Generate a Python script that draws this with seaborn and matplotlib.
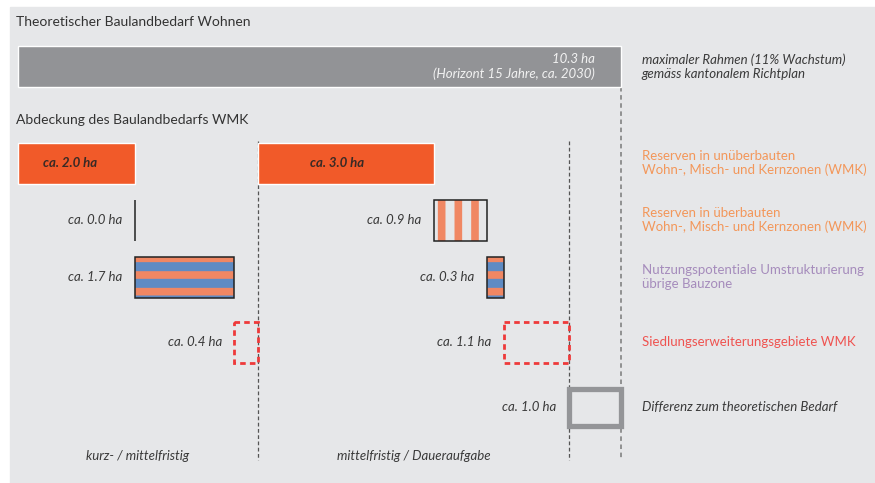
import numpy as np
import pandas as pd
import matplotlib.pyplot as plt
import seaborn as sns

sns.set_style('white')
plt.rcParams['font.family'] = ['Lato', 'DejaVu Sans']
plt.rcParams['hatch.linewidth'] = 5.5

# --- data (ha) ---
total_ha = 10.3
total_note = '(Horizont 15 Jahre, ca. 2030)'
total_label = 'maximaler Rahmen (11% Wachstum)\ngemäss kantonalem Richtplan'
groups = ['kurz- / mittelfristig', 'mittelfristig / Daueraufgabe']
short_term = [2.0, 0.0, 1.7, 0.4]
long_term = [3.0, 0.9, 0.3, 1.1]
gap_ha = 1.0
categories = ['Reserven in unüberbauten\nWohn-, Misch- und Kernzonen (WMK)',
              'Reserven in überbauten\nWohn-, Misch- und Kernzonen (WMK)',
              'Nutzungspotentiale Umstrukturierung\nübrige Bauzone',
              'Siedlungserweiterungsgebiete WMK']
gap_category = 'Differenz zum theoretischen Bedarf'

# colours
bg = '#e6e7e9'
grey_bar = '#929396'
orange = '#f15a29'
salmon = '#f08763'
blue = '#5f8bc3'
red = '#ee3a3a'
dark = '#3a3a3a'
cat_text = ['#f3975a', '#f3975a', '#a68cbc', '#ef5350']

# row layout in pixel units (y axis = pixels from top)
row_y = [163, 220, 277, 342, 407]
bar_h = 41

df = pd.DataFrame({
    'group': [groups[0]] * 4 + [groups[1]] * 4,
    'cat': list(range(4)) * 2,
    'value': short_term + long_term,
})
df['end'] = df['value'].cumsum()
df['start'] = df['end'] - df['value']
group_end = df.groupby('group', sort=False)['end'].max()

fig = plt.figure(figsize=(8.75, 4.83), dpi=100)
ax = fig.add_axes([0, 0, 1, 1])
px_per_ha = 58.64
x0 = 17.5
ax.set_xlim(-x0 / px_per_ha, (875 - x0) / px_per_ha)
ax.set_ylim(483, 0)
ax.set_axis_off()

ax.add_patch(plt.Rectangle((10 / 875, 0), 865 / 875, 476 / 483,
                           transform=ax.transAxes, color=bg, zorder=0))

# headings
ax.text(-0.02, 22, 'Theoretischer Baulandbedarf Wohnen', fontsize=10,
        color='#333333', va='center', ha='left')
ax.text(-0.02, 120, 'Abdeckung des Baulandbedarfs WMK', fontsize=10,
        color='#333333', va='center', ha='left')

# total bar
ax.barh(66.5, total_ha, left=0, height=bar_h, color=grey_bar, zorder=2)
ax.annotate(f'{total_ha:.1f} ha\n{total_note}', (total_ha, 66.5),
            xytext=(-19, 0), textcoords='offset points', ha='right',
            va='center', multialignment='right', style='italic',
            fontsize=9.5, color='#f2f2f2', linespacing=1.2, zorder=3)
ax.annotate(total_label, (total_ha, 66.5), xytext=(14.5, 0),
            textcoords='offset points', ha='left', va='center',
            style='italic', fontsize=9.5, color=dark, linespacing=1.2)

# coverage bars
for _, r in df.iterrows():
    y = row_y[r['cat']]
    s, w = r['start'], r['value']
    if r['cat'] == 0:
        ax.barh(y, w, left=s, height=bar_h, color=orange, zorder=2)
        ax.text(s + w * 0.45, y, f'ca. {w:.1f} ha', ha='center', va='center',
                style='italic', fontweight='bold', fontsize=9.5, color='#3a2a25',
                zorder=3)
        continue
    if r['cat'] == 1:
        ax.barh(y, w, left=s, height=bar_h, color=bg, edgecolor=salmon,
                linewidth=0, hatch='|', zorder=2)
        ax.barh(y, w, left=s, height=bar_h, fill=False, edgecolor='#222222',
                linewidth=1.1, zorder=3)
    elif r['cat'] == 2:
        ax.barh(y, w, left=s, height=bar_h, color=blue, edgecolor=salmon,
                linewidth=0, hatch='-', zorder=2)
        ax.barh(y, w, left=s, height=bar_h, fill=False, edgecolor='#222222',
                linewidth=1.1, zorder=3)
    else:
        ax.barh(y, w, left=s, height=bar_h, fill=False, edgecolor=red,
                linewidth=2, linestyle=(0, (2, 1.5)), zorder=3)
    ax.annotate(f'ca. {w:.1f} ha', (s, y), xytext=(-9, 0),
                textcoords='offset points', ha='right', va='center',
                style='italic', fontsize=9.5, color=dark)

# difference to total
gap_start = group_end.iloc[-1]
ax.barh(row_y[4], total_ha - gap_start, left=gap_start, height=bar_h - 4,
        color=bg, edgecolor='#949598', linewidth=3.8, zorder=2)
ax.annotate(f'ca. {gap_ha:.1f} ha', (gap_start, row_y[4]), xytext=(-9, 0),
            textcoords='offset points', ha='right', va='center',
            style='italic', fontsize=9.5, color=dark)

# dividers
ax.vlines(group_end.values, 141, 460, colors='#555555', linewidth=0.9,
          linestyles=[(0, (3, 2))], zorder=1)
ax.vlines(total_ha, 87, 460, colors='#8a8a8a', linewidth=1.3,
          linestyles=[(0, (2.5, 2))], zorder=1)

# group labels
starts = [0] + list(group_end.values[:-1])
for g, a, b in zip(groups, starts, group_end.values):
    ax.text((a + b) / 2, 456, g, ha='center', va='center', style='italic',
            fontsize=9.5, color=dark)

# category legend on the right
for i, lab in enumerate(categories):
    ax.annotate(lab, (total_ha, row_y[i]), xytext=(14.5, 0),
                textcoords='offset points', ha='left', va='center',
                fontsize=9.5, color=cat_text[i], linespacing=1.2)
ax.annotate(gap_category, (total_ha, row_y[4]), xytext=(14.5, 0),
            textcoords='offset points', ha='left', va='center',
            style='italic', fontsize=9.5, color=dark)

fig.savefig('out.png', dpi=100)
